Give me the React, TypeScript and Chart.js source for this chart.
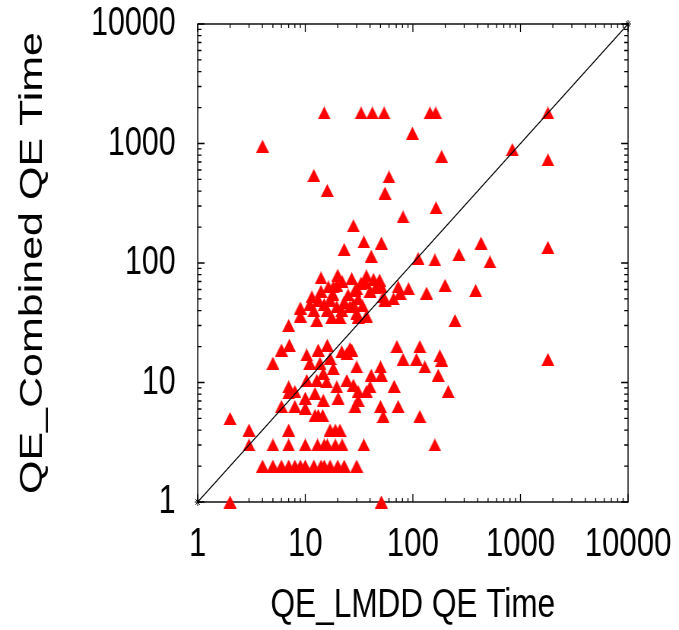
import React, { useEffect, useRef } from "react";
import { Chart, registerables } from "chart.js";

Chart.register(...registerables);

// LMDD time (x) vs Combined time (y)
const xValues = [
  4, 15, 33, 42, 54, 144, 163, 1800, 99, 840, 1800, 185, 12, 16, 60, 55, 164, 81, 28, 23, 35, 51, 41, 430, 1800, 112, 160, 268, 520,
  51, 73, 91, 134, 199, 383, 66, 76, 53, 246, 27, 37, 43, 49, 55, 20, 16.4, 19.6, 29, 25, 31, 11.5, 13.2, 9, 9, 12, 12.8, 7, 17, 19.6, 17.6, 21.8, 26, 31, 21, 16, 30, 37, 36, 18.2, 30,
  14, 22, 33, 45, 15, 18, 23, 28, 34, 40, 11, 14,
  6, 7.1, 5, 10.3, 13.2, 16, 11, 13.7, 17, 18.2, 21.8, 26, 24.3, 14.7, 15.8, 12.8, 10.3, 30, 24.3, 28, 19.6, 27, 71, 116, 81, 108, 129, 178, 185, 172, 50, 51, 41, 40, 67, 213, 1800,
  7, 7, 8, 10, 12.3, 14.7, 20.2, 6, 8, 10, 12.3, 13.2, 14.5, 2, 31, 37, 31, 29, 50, 73, 53, 116,
  3, 7, 17, 19, 21,
  3, 5, 7, 10, 13, 15, 16, 19, 22, 35, 160,
  4, 5, 6, 7, 8, 9, 10, 12, 14, 15, 17, 20, 23, 30,
  2, 51,
];
const yValues = [
  950, 1800, 1800, 1800, 1800, 1800, 1800, 1800, 1220, 890, 730, 780, 540, 405, 525, 385, 290, 243, 205, 130, 150, 147, 114, 147, 135, 109, 106, 118, 102,
  63, 63, 61, 56, 65, 59, 50, 56, 52, 33, 74, 78, 73, 72, 49, 79, 63, 65, 59, 54, 50, 52, 49, 42, 36, 40, 33, 30, 49, 43, 35, 40, 43, 35, 35, 40, 38, 36, 69, 63, 61,
  75, 70, 68, 62, 45, 55, 47, 45, 44, 58, 45, 58,
  18.7, 20.5, 14.5, 17, 18.7, 20.5, 14.5, 14.5, 15.9, 13.1, 18.1, 19.2, 17.5, 11.9, 10.1, 10.4, 10.4, 13.5, 10.4, 9.5, 9.2, 18.7, 20, 20, 15.6, 15.6, 13.5, 16.7, 15.4, 11.5, 13.5, 11.5, 11.5, 9.2, 9.3, 8.4, 15.6,
  9.2, 8.2, 8.4, 7.4, 8.1, 7.1, 7.4, 6.3, 6.3, 6.1, 5.3, 5.3, 5.3, 5, 8.4, 8.4, 7.1, 6.3, 6.3, 6.3, 5.2, 5.2,
  4, 4, 4, 4, 4,
  3, 3, 3, 3, 3, 3, 3, 3, 3, 3, 3,
  2, 2, 2, 2, 2, 2, 2, 2, 2, 2, 2, 2, 2, 2,
  1, 1,
];

const diagonalX = [1, 10000];
const diagonalY = [1, 10000];
const xTickValues = [1, 10, 100, 1000, 10000];
const yTickValues = [1, 10, 100, 1000, 10000];
const minorMultipliers = [2, 3, 4, 5, 6, 7, 8, 9];
const xTitle = "QE_LMDD QE Time";
const yTitle = "QE_Combined QE Time";

const W = 893;
const H = 630;
const SQUISH = 679 / W;
const FONT = "'Liberation Sans', Arial, Helvetica, sans-serif";

function makeTriangle(): HTMLCanvasElement {
  const c = document.createElement("canvas");
  c.width = 17;
  c.height = 13;
  const g = c.getContext("2d")!;
  g.fillStyle = "#ff0000";
  g.beginPath();
  g.moveTo(8.5, 0);
  g.lineTo(17, 13);
  g.lineTo(0, 13);
  g.closePath();
  g.fill();
  return c;
}

const frameTicks = {
  id: "frameTicks",
  beforeDatasetsDraw(chart: any) {
    const { ctx, chartArea: a, scales } = chart;
    const x = scales.x;
    const y = scales.y;
    ctx.save();
    ctx.strokeStyle = "#000";
    ctx.lineWidth = 1.4;
    ctx.strokeRect(a.left, a.top, a.right - a.left, a.bottom - a.top);
    ctx.lineWidth = 1.3;
    ctx.beginPath();
    const drawX = (v: number, len: number) => {
      const px = x.getPixelForValue(v);
      ctx.moveTo(px, a.bottom);
      ctx.lineTo(px, a.bottom - len);
      ctx.moveTo(px, a.top);
      ctx.lineTo(px, a.top + len);
    };
    const drawY = (v: number, len: number) => {
      const py = y.getPixelForValue(v);
      ctx.moveTo(a.left, py);
      ctx.lineTo(a.left + len, py);
      ctx.moveTo(a.right, py);
      ctx.lineTo(a.right - len, py);
    };
    xTickValues.forEach((d, i) => {
      drawX(d, 8);
      if (i < xTickValues.length - 1) minorMultipliers.forEach((m) => drawX(m * d, 4));
    });
    yTickValues.forEach((d, i) => {
      drawY(d, 9);
      if (i < yTickValues.length - 1) minorMultipliers.forEach((m) => drawY(m * d, 5));
    });
    ctx.stroke();
    ctx.restore();
  },
};

export default function App() {
  const ref = useRef<HTMLCanvasElement | null>(null);

  useEffect(() => {
    document.body.style.margin = "0";
    if (!ref.current) return;
    const tri = makeTriangle();
    const points = xValues.map((v, i) => ({ x: v, y: yValues[i] }));
    const diag = diagonalX.map((v, i) => ({ x: v, y: diagonalY[i] }));

    const zeroPad = (s: any) => {
      s.paddingTop = 0;
      s.paddingBottom = 0;
      s.paddingLeft = 0;
      s.paddingRight = 0;
    };

    const chart = new Chart(ref.current, {
      type: "scatter",
      data: {
        datasets: [
          {
            type: "line",
            data: diag,
            showLine: true,
            borderColor: "#000",
            borderWidth: 1.2,
            pointStyle: "star",
            pointRadius: 4,
            pointBorderColor: "#000",
            pointBorderWidth: 1,
            pointBackgroundColor: "#000",
            clip: false,
            order: 0,
          } as any,
          {
            data: points,
            pointStyle: tri as any,
            pointRadius: 6,
            backgroundColor: "#ff0000",
            borderColor: "#ff0000",
            clip: false,
            order: 1,
          } as any,
        ],
      },
      options: {
        responsive: false,
        maintainAspectRatio: false,
        animation: false,
        devicePixelRatio: 1,
        layout: { padding: { left: 0, right: 67, top: 24, bottom: 0 } },
        plugins: { legend: { display: false }, tooltip: { enabled: false } },
        scales: {
          x: {
            type: "logarithmic",
            position: "bottom",
            min: 1,
            max: 10000,
            grid: { display: false, drawTicks: false },
            border: { display: false },
            afterBuildTicks: (s: any) => {
              s.ticks = xTickValues.map((v) => ({ value: v }));
            },
            afterFit: (s: any) => {
              s.height = 128;
              zeroPad(s);
            },
            ticks: {
              autoSkip: false,
              maxRotation: 0,
              padding: 18,
              color: "#000",
              font: { family: FONT, size: 41 },
              callback: (v: any) => String(v),
            },
            title: {
              display: true,
              text: xTitle,
              color: "#000",
              font: { family: FONT, size: 41.5 },
              padding: { top: 0, bottom: 0 },
            },
          },
          y: {
            type: "logarithmic",
            position: "left",
            min: 1,
            max: 10000,
            grid: { display: false, drawTicks: false },
            border: { display: false },
            afterBuildTicks: (s: any) => {
              s.ticks = yTickValues.map((v) => ({ value: v }));
            },
            afterFit: (s: any) => {
              s.width = 260;
              zeroPad(s);
            },
            ticks: {
              autoSkip: false,
              padding: 29,
              color: "#000",
              font: { family: FONT, size: 40 },
              callback: (v: any) => String(v),
            },
            title: {
              display: true,
              text: yTitle,
              color: "#000",
              font: { family: FONT, size: 43 },
              padding: { top: 17, bottom: 0 },
            },
          },
        },
      } as any,
      plugins: [frameTicks],
    });
    return () => chart.destroy();
  }, []);

  return (
    <div style={{ width: 679, height: 630, overflow: "hidden", background: "#fff" }}>
      <div
        style={{
          width: W,
          height: H,
          transform: `scaleX(${SQUISH})`,
          transformOrigin: "0 0",
        }}
      >
        <canvas ref={ref} width={W} height={H} style={{ display: "block", width: W, height: H }} />
      </div>
    </div>
  );
}
